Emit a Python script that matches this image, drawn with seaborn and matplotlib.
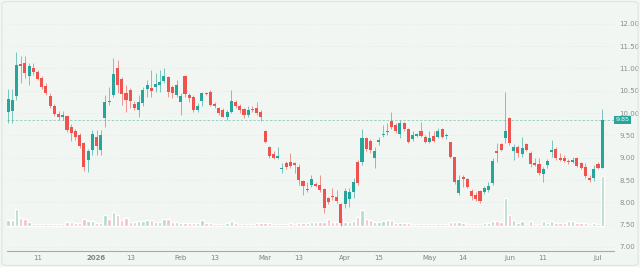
import numpy as np
import pandas as pd
import matplotlib
matplotlib.use("Agg")
import matplotlib.pyplot as plt
from matplotlib.patches import FancyBboxPatch
import seaborn as sns

# daily candles (oldest first)
opens = [10.03, 10.05, 10.39, 11.10, 11.13, 10.83, 11.01, 10.93, 10.78, 10.61,
         10.39, 10.16, 9.98, 9.91, 9.94, 9.70, 9.61, 9.51, 9.33, 8.95,
         9.18, 9.47, 9.18, 9.89, 10.28, 10.41, 11.01, 10.77, 10.45, 10.52,
         10.20, 10.07, 10.22, 10.54, 10.56, 10.59, 10.63, 10.72, 10.82, 10.59,
         10.41, 10.26, 10.84, 10.41, 10.37, 10.07, 10.27, 10.45, 10.48, 10.21,
         10.11, 10.07, 9.92, 10.03, 10.24, 10.16, 10.09, 9.96, 10.09, 10.11,
         10.03, 9.59, 9.25, 9.08, 8.99, 8.74, 8.89, 8.91, 8.89, 8.80,
         8.48, 8.27, 8.39, 8.42, 8.39, 8.30, 8.09, 8.15, 8.13, 7.96,
         7.96, 8.08, 8.23, 8.91, 8.90, 9.44, 9.38, 8.99, 9.35, 9.50,
         9.58, 9.83, 9.74, 9.53, 9.77, 9.65, 9.41, 9.49, 9.59, 9.47,
         9.36, 9.49, 9.47, 9.64, 9.49, 9.35, 9.01, 8.20, 8.56, 8.52,
         8.26, 8.17, 8.26, 8.24, 8.28, 8.44, 9.16, 9.31, 9.45, 9.90,
         9.15, 9.25, 9.08, 9.30, 9.10, 8.88, 8.85, 8.63, 8.84, 9.12,
         9.20, 9.00, 9.00, 8.93, 8.91, 8.99, 8.88, 8.80, 8.55, 8.54,
         8.85, 8.78]
highs = [10.54, 10.54, 11.38, 11.27, 11.27, 11.12, 11.13, 10.97, 10.84, 10.67,
         10.45, 10.20, 10.04, 10.04, 9.96, 9.75, 9.65, 9.55, 9.36, 9.19,
         9.62, 9.62, 9.62, 10.40, 10.59, 11.23, 11.19, 10.82, 10.63, 10.56,
         10.27, 10.41, 10.59, 10.74, 10.97, 10.89, 10.97, 11.01, 10.84, 10.63,
         10.74, 10.45, 10.86, 10.45, 10.41, 10.22, 10.48, 10.48, 10.52, 10.24,
         10.13, 10.11, 10.07, 10.52, 10.30, 10.20, 10.11, 10.15, 10.15, 10.24,
         10.06, 9.62, 9.26, 9.14, 9.24, 8.88, 8.93, 9.10, 8.91, 8.86,
         8.50, 8.45, 8.61, 8.46, 8.61, 8.32, 8.13, 8.33, 8.28, 7.98,
         8.32, 8.33, 8.54, 8.95, 9.65, 9.47, 9.42, 9.25, 9.47, 9.74,
         9.77, 10.03, 9.77, 9.85, 9.81, 9.67, 9.61, 9.56, 9.81, 9.51,
         9.61, 9.61, 9.66, 9.66, 9.55, 9.36, 9.02, 8.61, 8.61, 8.54,
         8.29, 8.24, 8.28, 8.37, 8.46, 8.99, 9.33, 9.33, 10.48, 9.92,
         9.30, 9.29, 9.47, 9.33, 9.14, 8.99, 8.99, 8.80, 8.97, 9.40,
         9.25, 9.10, 9.06, 8.97, 9.02, 9.02, 8.90, 8.88, 8.61, 8.84,
         8.90, 10.09]
lows = [9.77, 9.77, 10.30, 10.67, 10.78, 10.63, 10.86, 10.74, 10.53, 10.41,
        10.11, 9.94, 9.85, 9.85, 9.58, 9.37, 9.39, 9.22, 8.71, 8.67,
        9.06, 9.06, 9.06, 9.68, 10.18, 10.37, 10.45, 10.18, 10.02, 10.11,
        10.07, 9.92, 10.15, 10.35, 10.37, 10.48, 10.48, 10.67, 10.37, 10.33,
        10.35, 9.96, 10.37, 10.26, 10.02, 10.02, 10.15, 10.40, 10.15, 10.11,
        9.96, 9.91, 9.85, 10.00, 10.11, 10.00, 9.89, 9.91, 10.02, 9.96,
        9.83, 9.33, 8.99, 8.97, 8.97, 8.65, 8.74, 8.76, 8.65, 8.39,
        8.17, 8.23, 8.35, 8.35, 8.24, 7.76, 7.96, 8.05, 7.98, 7.48,
        7.87, 7.90, 8.09, 8.39, 8.84, 9.14, 9.10, 8.76, 9.29, 9.47,
        9.51, 9.65, 9.55, 9.44, 9.60, 9.32, 9.38, 9.47, 9.47, 9.33,
        9.33, 9.36, 9.44, 9.44, 9.41, 8.99, 8.41, 8.17, 8.34, 8.32,
        8.05, 8.04, 7.99, 8.19, 8.24, 8.39, 8.91, 9.14, 9.33, 9.29,
        8.95, 9.02, 9.02, 9.15, 8.80, 8.82, 8.61, 8.46, 8.76, 9.02,
        8.95, 8.93, 8.90, 8.85, 8.88, 8.80, 8.75, 8.54, 8.46, 8.48,
        8.75, 8.76]
closes = [10.31, 10.30, 11.08, 11.06, 10.89, 11.06, 10.93, 10.76, 10.59, 10.46,
          10.16, 9.98, 9.91, 9.95, 9.62, 9.56, 9.46, 9.26, 8.80, 9.14,
          9.53, 9.26, 9.51, 10.26, 10.24, 10.87, 10.63, 10.42, 10.30, 10.27,
          10.11, 10.26, 10.52, 10.63, 10.50, 10.66, 10.69, 10.84, 10.48, 10.45,
          10.63, 10.39, 10.42, 10.33, 10.07, 10.17, 10.45, 10.42, 10.18, 10.15,
          10.01, 9.92, 10.03, 10.28, 10.15, 10.06, 9.96, 10.07, 10.06, 10.01,
          9.91, 9.36, 9.03, 8.99, 9.04, 8.78, 8.79, 8.82, 8.84, 8.50,
          8.36, 8.31, 8.52, 8.37, 8.28, 7.87, 8.00, 8.11, 8.02, 7.53,
          8.26, 8.23, 8.45, 8.43, 9.44, 9.20, 9.17, 9.15, 9.40, 9.53,
          9.60, 9.68, 9.59, 9.77, 9.65, 9.35, 9.51, 9.53, 9.49, 9.36,
          9.44, 9.38, 9.61, 9.47, 9.51, 9.02, 8.46, 8.49, 8.52, 8.34,
          8.14, 8.07, 8.04, 8.32, 8.37, 8.93, 9.11, 9.17, 9.60, 9.33,
          9.25, 9.10, 9.21, 9.17, 8.85, 8.84, 8.65, 8.75, 8.93, 9.17,
          8.99, 8.95, 8.93, 8.90, 8.95, 8.82, 8.78, 8.58, 8.50, 8.75,
          8.78, 9.85]
# volume in thousands
volumes = [150, 150, 425, 190, 165, 110, 50, 50, 50, 50,
           50, 50, 42, 42, 110, 110, 68, 75, 165, 125,
           125, 82, 82, 275, 175, 358, 275, 150, 190, 110,
           110, 132, 132, 150, 150, 110, 110, 175, 175, 110,
           92, 68, 82, 68, 68, 82, 150, 68, 68, 50,
           58, 50, 68, 132, 68, 58, 50, 58, 50, 68,
           68, 75, 68, 58, 58, 50, 58, 68, 58, 82,
           68, 68, 92, 92, 92, 110, 175, 110, 110, 225,
           110, 110, 125, 232, 400, 168, 150, 110, 110, 125,
           150, 150, 68, 75, 68, 68, 50, 50, 58, 50,
           58, 50, 58, 58, 50, 110, 110, 110, 75, 50,
           50, 58, 58, 68, 75, 125, 125, 110, 700, 275,
           142, 82, 125, 58, 125, 58, 58, 125, 82, 125,
           82, 82, 82, 125, 125, 82, 82, 82, 42, 82,
           42, 1250]

tick_idx = [7, 21, 29, 41, 49, 61, 69, 80, 88, 100, 108, 119, 127, 140]
tick_labels = ['11', '2026', '13', 'Feb', '13', 'Mar', '13', 'Apr', '15',
               'May', '14', 'Jun', '11', 'Jul']
price_ticks = [7.0, 7.5, 8.0, 8.5, 9.0, 9.5, 10.0, 10.5, 11.0, 11.5, 12.0]

UP = '#26a69a'
DOWN = '#ef5350'
BG = '#f1f6f3'

sns.set_theme(style='white')
plt.rcParams['font.family'] = ['DejaVu Sans']

df = pd.DataFrame({'o': opens, 'h': highs, 'l': lows, 'c': closes, 'v': volumes})
df['idx'] = np.arange(len(df))
df['dir'] = np.where(df['c'] >= df['o'], 'up', 'down')

fig = plt.figure(figsize=(6.4, 2.67), dpi=100, facecolor=BG)
ax = fig.add_axes([7 / 640, 16 / 267, 607 / 640, 249 / 267])
ax2 = ax.twinx()

# volume pane, overlaid at the bottom
sns.barplot(data=df, x='idx', y='v', hue='dir', dodge=False, native_scale=True,
            palette={'up': '#b2dacd', 'down': '#f4c2c1'}, saturation=1,
            width=0.8, errorbar=None, legend=False, ax=ax2)
ax2.set_ylim(-25 * 25, 224 * 25)
ax2.set_yticks([])
ax2.set_ylabel('')
ax2.set_xlabel('')
ax2.patch.set_facecolor(BG)
for s in ax2.spines.values():
    s.set_visible(False)

ax.set_zorder(ax2.get_zorder() + 1)
ax.patch.set_visible(False)

# grid
for p in price_ticks:
    ax.axhline(p, color='#dde5e0', lw=0.5, ls=(0, (1, 2)), zorder=0)

# candles
colors = np.where(df['dir'] == 'up', UP, DOWN)
ax.vlines(df['idx'], df['l'], df['h'], colors=colors, lw=0.7, alpha=0.6, zorder=2)
body_lo = np.minimum(df['o'], df['c'])
body_h = np.maximum(np.abs(df['c'] - df['o']), 0.02)
ax.bar(df['idx'], body_h, bottom=body_lo, width=0.72, color=colors, lw=0, zorder=3)

# last price line + label
last = closes[-1]
ax.axhline(last, color='#8fcabd', lw=0.6, ls=(0, (3, 2)), zorder=1)
ax.text(1.003, last, f'{last:.2f}', transform=ax.get_yaxis_transform(),
        ha='left', va='center', fontsize=4.6, color='white',
        bbox=dict(boxstyle='square,pad=0.25', fc=UP, ec='none'), zorder=5)

ax.set_xlim(-0.24, 143.8)
ax.set_ylim(6.91, 12.49)
ax2.set_xlim(-0.24, 143.8)

ax.yaxis.tick_right()
ax.set_yticks(price_ticks)
ax.set_yticklabels([f'{p:.2f}' for p in price_ticks])
ax.tick_params(axis='y', length=0, pad=4, labelsize=5, labelcolor='#8a8f8c')
ax.set_xticks(tick_idx)
ax.set_xticklabels(tick_labels)
ax.tick_params(axis='x', length=0, pad=3, labelsize=5, labelcolor='#7f8582')
for lbl in ax.get_xticklabels():
    if lbl.get_text() == '2026':
        lbl.set_fontweight('bold')

for name, s in ax.spines.items():
    s.set_visible(name == 'bottom')
ax.spines['bottom'].set_color('#a6aba8')
ax.spines['bottom'].set_linewidth(0.8)

# outer frame
fig.patches.append(FancyBboxPatch((0.003, 0.006), 0.994, 0.988,
                                  boxstyle='round,pad=0,rounding_size=0.01',
                                  transform=fig.transFigure, fc='none',
                                  ec='#dfe5e1', lw=0.8))

fig.savefig('out.png', dpi=100, facecolor=BG)
